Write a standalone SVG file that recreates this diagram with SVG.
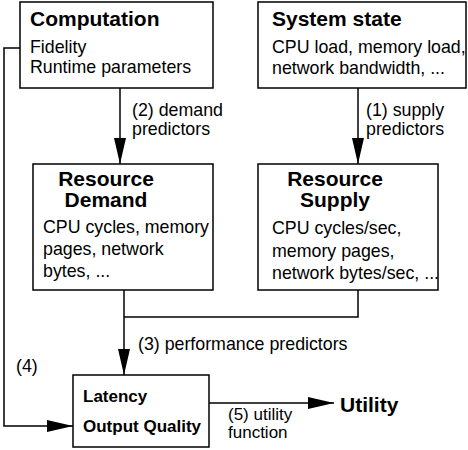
<svg xmlns="http://www.w3.org/2000/svg" width="468" height="450" viewBox="0 0 468 450">
<style>
  .box { fill: #fff; stroke: #000; stroke-width: 1.5; }
  .title { font-family: "Liberation Sans", Arial, sans-serif; font-weight: bold; font-size: 21px; fill: #000; }
  .small-title { font-family: "Liberation Sans", Arial, sans-serif; font-weight: bold; font-size: 17px; fill: #000; }
  .body { font-family: "Liberation Sans", Arial, sans-serif; font-size: 17.8px; fill: #000; }
  .lbl { font-family: "Liberation Sans", Arial, sans-serif; font-size: 17px; fill: #000; }
  .conn { fill: none; stroke: #000; stroke-width: 1.5; }
</style>
<defs>
  <marker id="arrow" markerUnits="userSpaceOnUse" markerWidth="26" markerHeight="12" refX="26" refY="6" orient="auto">
    <path d="M0,0 L26,6 L0,12 Z" fill="#000"/>
  </marker>
</defs>
<rect width="468" height="450" fill="#fff"/>

<g id="connectors">
  <path class="conn" d="M120,88 V164" marker-end="url(#arrow)"/>
  <path class="conn" d="M358,88 V164" marker-end="url(#arrow)"/>
  <path class="conn" d="M358,290 V317 H124"/>
  <path class="conn" d="M124,290 V375" marker-end="url(#arrow)"/>
  <path class="conn" d="M20,48 H4 V426 H73" marker-end="url(#arrow)"/>
  <path class="conn" d="M209,403 H334" marker-end="url(#arrow)"/>
  <text class="body" x="132" y="116">(2) demand</text>
  <text class="body" x="132" y="135">predictors</text>
  <text class="body" x="366" y="116">(1) supply</text>
  <text class="body" x="366" y="135">predictors</text>
  <text class="body" x="138" y="350">(3) performance predictors</text>
  <text class="body" x="16" y="372">(4)</text>
  <text class="lbl" x="228" y="420">(5) utility</text>
  <text class="lbl" x="228" y="438">function</text>
</g>

<g id="computation">
  <rect class="box" x="20" y="2" width="193" height="86"/>
  <text class="title" x="30" y="26">Computation</text>
  <text class="body" x="30" y="53">Fidelity</text>
  <text class="body" x="30" y="73">Runtime parameters</text>
</g>

<g id="system-state">
  <rect class="box" x="258" y="2" width="208" height="86"/>
  <text class="title" x="272" y="26">System state</text>
  <text class="body" x="272" y="53">CPU load, memory load,</text>
  <text class="body" x="272" y="74">network bandwidth, ...</text>
</g>

<g id="resource-demand">
  <rect class="box" x="33" y="164" width="180" height="126"/>
  <text class="title" x="106" y="186" text-anchor="middle">Resource</text>
  <text class="title" x="106" y="207" text-anchor="middle">Demand</text>
  <text class="body" x="43" y="233">CPU cycles, memory</text>
  <text class="body" x="43" y="255">pages, network</text>
  <text class="body" x="43" y="277">bytes, ...</text>
</g>

<g id="resource-supply">
  <rect class="box" x="258" y="164" width="180" height="126"/>
  <text class="title" x="335" y="186" text-anchor="middle">Resource</text>
  <text class="title" x="335" y="207" text-anchor="middle">Supply</text>
  <text class="body" x="272" y="234">CPU cycles/sec,</text>
  <text class="body" x="272" y="257">memory pages,</text>
  <text class="body" x="272" y="279">network bytes/sec, ...</text>
</g>

<g id="latency-quality">
  <rect class="box" x="73" y="375" width="136" height="72"/>
  <text class="small-title" x="83" y="402">Latency</text>
  <text class="small-title" x="83" y="432">Output Quality</text>
</g>

<g id="utility">
  <text class="title" x="340" y="412">Utility</text>
</g>
</svg>
